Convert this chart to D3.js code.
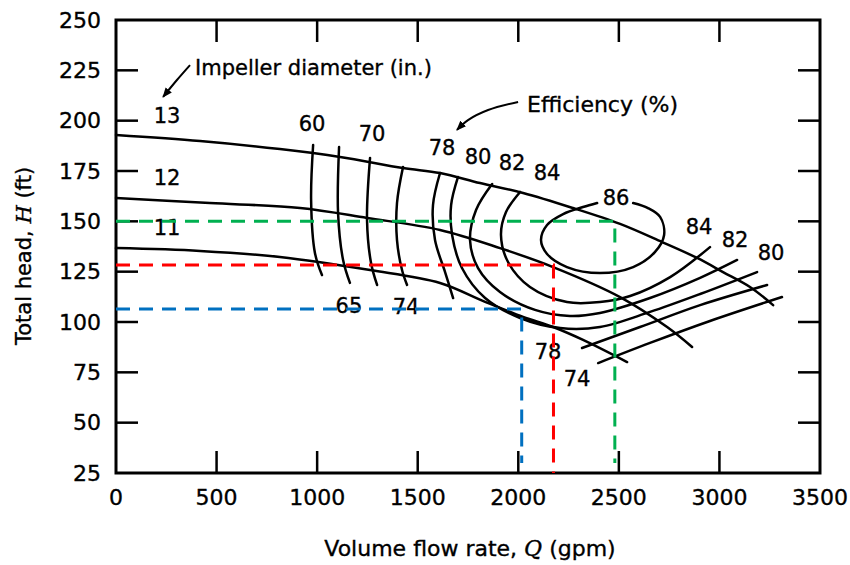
<!DOCTYPE html>
<html>
<head>
<meta charset="utf-8">
<script src="https://cdn.jsdelivr.net/npm/d3@7"></script>
<style>
    html, body { margin: 0; padding: 0; background: #fff; }
    svg { display: block; }
    svg text { stroke: #000; stroke-width: 0.35px; }
</style>
</head>
<body>
<svg id="pump-chart"></svg>
<script>
/* Pump performance map: head vs flow for three impeller sizes,
 * efficiency contours, and three coloured operating-point guides.
 */
var xTicks = [0, 500, 1000, 1500, 2000, 2500, 3000, 3500];
var yTicks = [25, 50, 75, 100, 125, 150, 175, 200, 225, 250];

// head curves [Q gpm, H ft]
var dia13 = [[0, 192.9], [418, 189.9], [815, 185.9], [1114, 182.0], [1427, 176.5], [1611, 174.0],
    [1810, 169.0], [2024, 164.1], [2272, 156.6], [2506, 148.7], [2715, 139.7], [2889, 131.8],
    [3018, 124.8], [3152, 117.4], [3267, 108.4]];
var dia12 = [[0, 161.6], [467, 159.1], [915, 156.6], [1248, 151.7], [1611, 145.7], [1909, 136.7],
    [2173, 127.3], [2506, 112.4], [2740, 97.5], [2864, 87.6]];
var dia11 = [[0, 136.7], [418, 135.3], [815, 132.3], [1263, 125.8], [1611, 119.4], [1835, 110.0],
    [2024, 102.5], [2173, 97.5], [2322, 91.1], [2541, 80.1]];

var diaLabels = [
    { text: "13", q: 254, h: 202.3 },
    { text: "12", q: 254, h: 171.5 },
    { text: "11", q: 254, h: 146.7 }
];

// efficiency contours [Q gpm, H ft]
var eff60 = [[980, 187.9], [970, 160.6], [989, 134.3], [1024, 123.3]];
var eff65 = [[1109, 186.9], [1104, 154.1], [1129, 130.8], [1163, 119.4]];
var eff70 = [[1263, 181.5], [1248, 150.7], [1268, 129.3], [1298, 118.4]];
var eff74a = [[1427, 177.0], [1397, 159.1], [1397, 140.7], [1422, 125.8], [1447, 118.4]];
var eff74b = [[2397, 79.6], [2655, 89.6], [2953, 100.5], [3311, 112.4]];
var eff78a = [[1611, 174.0], [1576, 158.1], [1586, 140.7], [1636, 124.8], [1676, 111.9]];
var eff78b = [[2317, 87.1], [2605, 97.5], [2904, 108.4], [3237, 118.4]];
var eff80 = [[1700, 172.0], [1666, 158.1], [1671, 143.2], [1720, 126.8], [1835, 111.9], [2009, 102.0],
    [2208, 97.0], [2406, 97.5], [2655, 105.0], [2904, 113.9], [3187, 124.8]];
var eff82 = [[1870, 168.5], [1790, 155.6], [1760, 140.7], [1800, 126.8], [1909, 114.9], [2083, 106.0],
    [2257, 103.0], [2406, 104.5], [2655, 111.9], [2904, 121.9], [3088, 130.8]];
var eff84 = [[2009, 164.6], [1939, 154.6], [1914, 143.2], [1949, 129.8], [2058, 117.4], [2242, 109.9],
    [2406, 109.9], [2556, 112.9], [2755, 122.3], [2953, 137.2]];
var eff86 = [[2392, 159.1], [2322, 157.1], [2223, 153.6], [2143, 148.2], [2113, 140.7], [2143, 133.8],
    [2242, 127.3], [2406, 124.3], [2571, 127.3], [2680, 134.8], [2725, 143.2], [2705, 152.2],
    [2645, 156.6], [2571, 159.1]];

var effLabels = [
    { text: "60", q: 975, h: 198.3 },
    { text: "70", q: 1273, h: 193.4 },
    { text: "78", q: 1621, h: 186.4 },
    { text: "80", q: 1800, h: 182.0 },
    { text: "82", q: 1969, h: 179.0 },
    { text: "84", q: 2143, h: 174.0 },
    { text: "86", q: 2486, h: 161.6 },
    { text: "84", q: 2899, h: 147.2 },
    { text: "82", q: 3078, h: 140.7 },
    { text: "80", q: 3257, h: 134.3 },
    { text: "65", q: 1158, h: 108.0 },
    { text: "74", q: 1442, h: 107.4 },
    { text: "78", q: 2148, h: 85.1 },
    { text: "74", q: 2292, h: 71.7 }
];

// operating-point guides [Q, H]
var guideGreen = [[0, 150], [2480, 150], [2480, 30]];
var guideRed = [[0, 128.3], [2175, 128.3], [2175, 25]];
var guideBlue = [[0, 106.4], [2017, 106.4], [2017, 30]];

// annotation arrows [Q, H]
var arrowImpeller = [[368, 227.6], [303, 220.2], [234, 211.8]];
var arrowEfficiency = [[1999, 209.3], [1850, 205.3], [1750, 200.3], [1695, 195.4]];

(function () {
    "use strict";

    var width = 850, height = 565;
    var margin = { top: 20, right: 30, bottom: 92, left: 116 };
    var font = "'DejaVu Sans', sans-serif";

    var svg = d3.select("#pump-chart")
        .attr("width", width)
        .attr("height", height)
        .attr("viewBox", "0 0 " + width + " " + height)
        .style("font-family", font);

    var x = d3.scaleLinear().domain([0, 3500]).range([margin.left, width - margin.right]);
    var y = d3.scaleLinear().domain([25, 250]).range([height - margin.bottom, margin.top]);

    var defs = svg.append("defs");
    defs.append("marker")
        .attr("id", "arrowhead")
        .attr("viewBox", "0 0 10 10")
        .attr("refX", 9).attr("refY", 5)
        .attr("markerWidth", 5).attr("markerHeight", 5)
        .attr("orient", "auto")
        .append("path")
        .attr("d", "M0,1 L10,5 L0,9 Z")
        .attr("fill", "#000");

    var smooth = d3.line()
        .x(function (d) { return x(d[0]); })
        .y(function (d) { return y(d[1]); })
        .curve(d3.curveCatmullRom.alpha(0.5));

    var straight = d3.line()
        .x(function (d) { return x(d[0]); })
        .y(function (d) { return y(d[1]); });

    // frame with inward ticks on all four sides
    var tickLen = 22;
    var axisG = svg.append("g").attr("stroke", "#000");
    axisG.append("rect")
        .attr("x", x(0)).attr("y", y(250))
        .attr("width", x(3500) - x(0)).attr("height", y(25) - y(250))
        .attr("fill", "none").attr("stroke-width", 3);

    axisG.selectAll("line.xb").data(xTicks.slice(1, -1)).join("line")
        .attr("x1", function (d) { return x(d); }).attr("x2", function (d) { return x(d); })
        .attr("y1", y(25)).attr("y2", y(25) - tickLen)
        .attr("stroke-width", 2.5);
    axisG.selectAll("line.xt").data(xTicks.slice(1, -1)).join("line")
        .attr("x1", function (d) { return x(d); }).attr("x2", function (d) { return x(d); })
        .attr("y1", y(250)).attr("y2", y(250) + tickLen)
        .attr("stroke-width", 2.5);
    axisG.selectAll("line.yl").data(yTicks.slice(1, -1)).join("line")
        .attr("x1", x(0)).attr("x2", x(0) + tickLen)
        .attr("y1", function (d) { return y(d); }).attr("y2", function (d) { return y(d); })
        .attr("stroke-width", 2.5);
    axisG.selectAll("line.yr").data(yTicks.slice(1, -1)).join("line")
        .attr("x1", x(3500)).attr("x2", x(3500) - tickLen)
        .attr("y1", function (d) { return y(d); }).attr("y2", function (d) { return y(d); })
        .attr("stroke-width", 2.5);

    svg.append("g").selectAll("text").data(xTicks).join("text")
        .attr("x", function (d) { return x(d); })
        .attr("y", y(25) + 24)
        .attr("dy", "0.35em")
        .attr("text-anchor", "middle")
        .style("font-size", "22px")
        .text(function (d) { return d; });

    svg.append("g").selectAll("text").data(yTicks).join("text")
        .attr("x", x(0) - 15)
        .attr("y", function (d) { return y(d); })
        .attr("dy", "0.35em")
        .attr("text-anchor", "end")
        .style("font-size", "22px")
        .text(function (d) { return d; });

    // axis titles with italic symbols
    var xTitle = svg.append("text")
        .attr("x", 470).attr("y", 548)
        .attr("dy", "0.35em")
        .attr("text-anchor", "middle")
        .style("font-size", "22px");
    xTitle.append("tspan").text("Volume flow rate, ");
    xTitle.append("tspan").style("font-style", "italic").style("font-family", "'DejaVu Serif', serif").text("Q");
    xTitle.append("tspan").text(" (gpm)");

    var yTitle = svg.append("text")
        .attr("transform", "translate(24,256) rotate(-90)")
        .attr("dy", "0.35em")
        .attr("text-anchor", "middle")
        .style("font-size", "21px");
    yTitle.append("tspan").text("Total head, ");
    yTitle.append("tspan").style("font-style", "italic").style("font-family", "'DejaVu Serif', serif").text("H");
    yTitle.append("tspan").text(" (ft)");

    // head and efficiency curves
    var curves = [dia13, dia12, dia11,
        eff60, eff65, eff70, eff74a, eff74b, eff78a, eff78b, eff80, eff82, eff84, eff86];
    svg.append("g")
        .attr("fill", "none")
        .attr("stroke", "#000")
        .attr("stroke-width", 2.5)
        .attr("stroke-linecap", "round")
        .selectAll("path").data(curves).join("path")
        .attr("d", smooth);

    var labelData = diaLabels.concat(effLabels);
    svg.append("g").selectAll("text").data(labelData).join("text")
        .attr("x", function (d) { return x(d.q); })
        .attr("y", function (d) { return y(d.h); })
        .attr("dy", "0.35em")
        .attr("text-anchor", "middle")
        .style("font-size", "21px")
        .text(function (d) { return d.text; });

    // annotations
    svg.append("text")
        .attr("x", 195).attr("y", 68)
        .attr("dy", "0.35em")
        .style("font-size", "21px")
        .text("Impeller diameter (in.)");
    svg.append("text")
        .attr("x", 527).attr("y", 104)
        .attr("dy", "0.35em")
        .style("font-size", "22px")
        .text("Efficiency (%)");

    svg.append("g")
        .attr("fill", "none")
        .attr("stroke", "#000")
        .attr("stroke-width", 2)
        .selectAll("path").data([arrowImpeller, arrowEfficiency]).join("path")
        .attr("d", smooth)
        .attr("marker-end", "url(#arrowhead)");

    // coloured dashed guides
    var guides = [
        { pts: guideGreen, colour: "#00b050" },
        { pts: guideRed, colour: "#ff0000" },
        { pts: guideBlue, colour: "#0070c0" }
    ];
    svg.append("g")
        .attr("fill", "none")
        .attr("stroke-width", 3)
        .attr("stroke-dasharray", "14,9")
        .selectAll("path").data(guides).join("path")
        .attr("stroke", function (d) { return d.colour; })
        .attr("d", function (d) { return straight(d.pts); });
})();
</script>
</body>
</html>
